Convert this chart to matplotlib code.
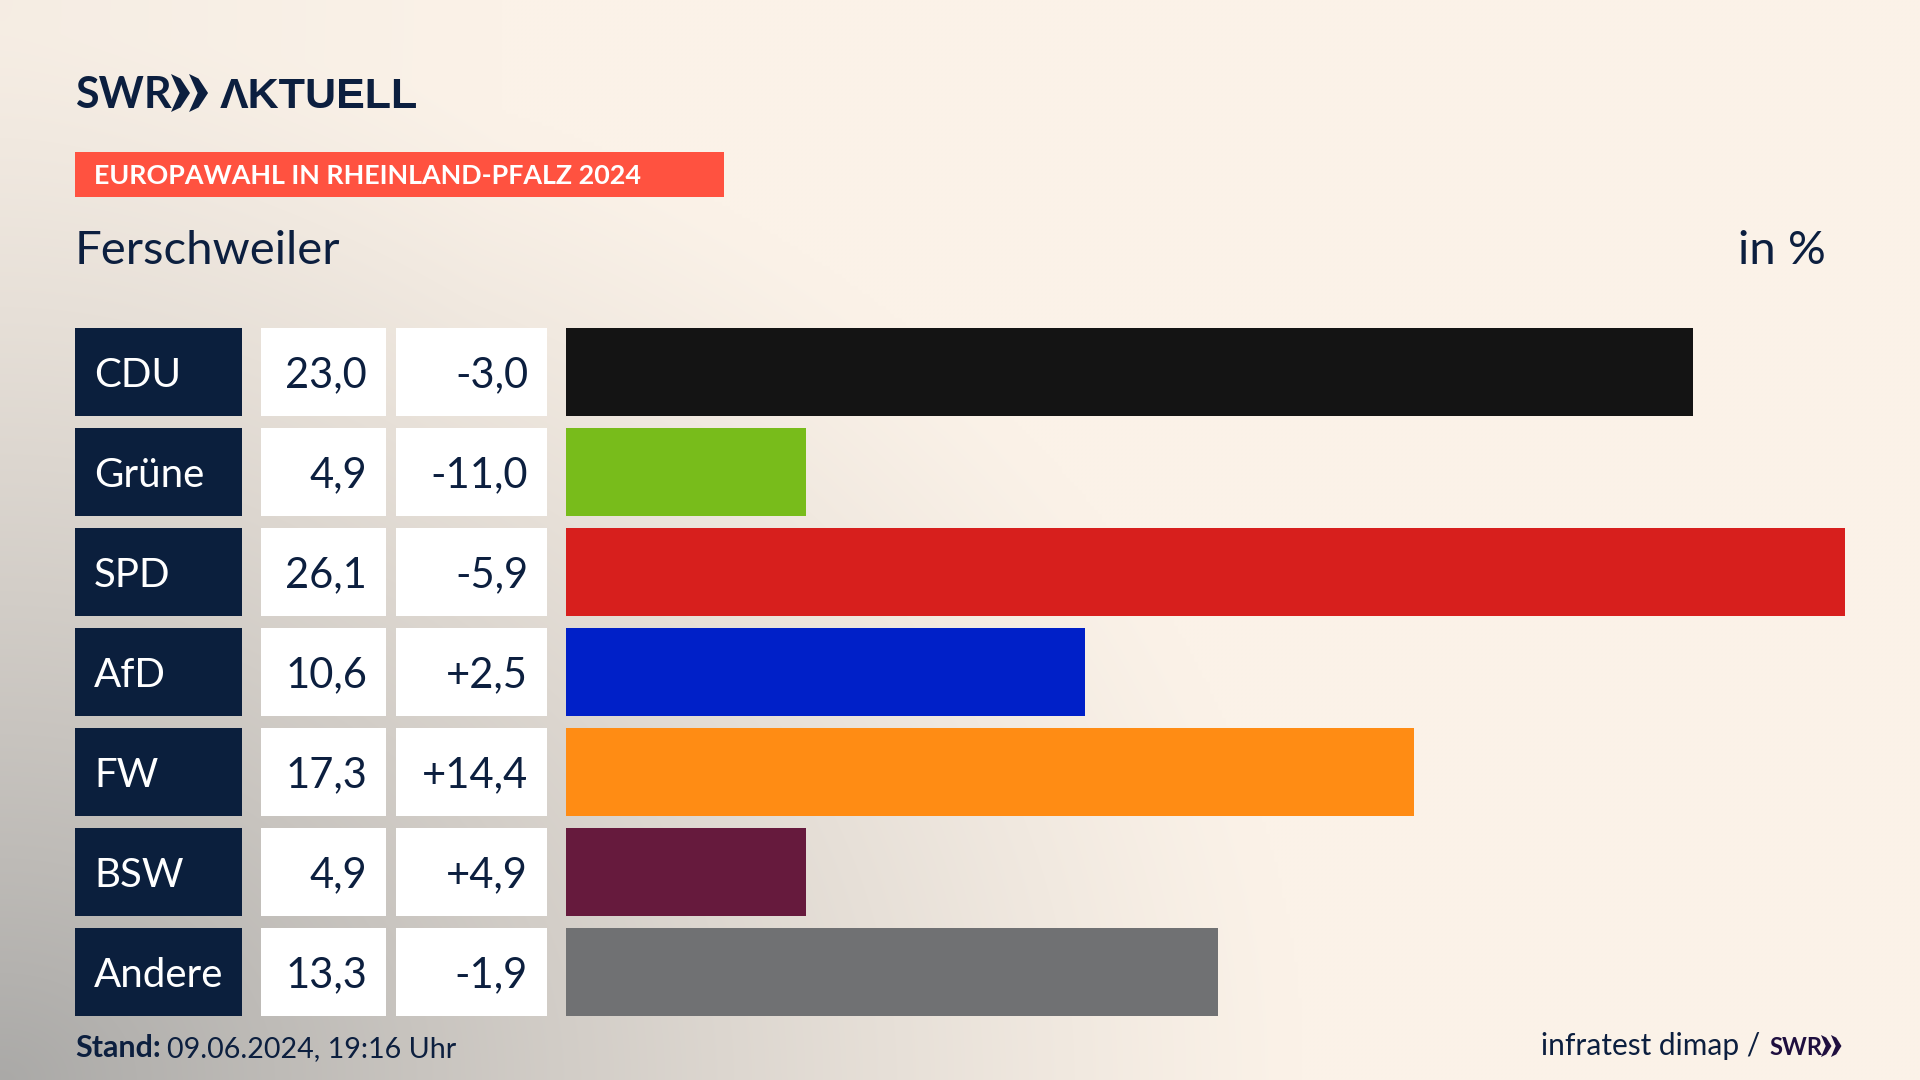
import matplotlib
matplotlib.use('Agg')
import matplotlib.pyplot as plt
from matplotlib.patches import Polygon
import numpy as np

# data
parties = ['CDU', 'Grüne', 'SPD', 'AfD', 'FW', 'BSW', 'Andere']
shares = [23.0, 4.9, 26.1, 10.6, 17.3, 4.9, 13.3]
share_labels = ['23,0', '4,9', '26,1', '10,6', '17,3', '4,9', '13,3']
change_labels = ['-3,0', '-11,0', '-5,9', '+2,5', '+14,4', '+4,9', '-1,9']
bar_colors = ['#141414', '#78BC1B', '#D71F1D', '#0020C8', '#FF8C14', '#661A3D', '#707173']

NAVY = '#0C1F3F'
CREAM = np.array([251, 242, 232]) / 255
GREY = np.array([170, 169, 167]) / 255
FONT = ['Lato', 'DejaVu Sans']

W, H = 1920, 1080
fig = plt.figure(figsize=(W / 100, H / 100), dpi=100)


def px_axes(left, top, right, bottom):
    return fig.add_axes([left / W, 1 - bottom / H, (right - left) / W, (bottom - top) / H])


# background + everything that sits in pixel space
bg = px_axes(0, 0, W, H)
xx, yy = np.meshgrid(np.arange(0, W, 4), np.arange(0, H, 4))
dist = np.sqrt((xx / 1300) ** 2 + ((H - yy) / 1050) ** 2)
weight = np.clip(1 - dist, 0, 1) ** 1.2
weight = weight + 0.07 * np.clip(1 - np.sqrt((xx / 500) ** 2 + (yy / 900) ** 2), 0, 1)
img = CREAM + (GREY - CREAM) * weight[..., None]
bg.imshow(np.clip(img, 0, 1), extent=(0, W, H, 0), aspect='auto', interpolation='bilinear')
bg.set_xlim(0, W)
bg.set_ylim(H, 0)
bg.axis('off')


def chevrons(x, top, bottom, size, color):
    mid = (top + bottom) / 2
    for off in (0, size * 0.95):
        pts = [(x + off, top), (x + off + size * 0.5, top + (bottom - top) * 0.12),
               (x + off + size, mid), (x + off + size * 0.5, bottom - (bottom - top) * 0.12),
               (x + off, bottom), (x + off + size * 0.45, mid)]
        bg.add_patch(Polygon(pts, closed=True, color=color, lw=0))


# logo
bg.text(75, 108, 'SWR', family=FONT, fontsize=31, fontweight='bold', color=NAVY, va='baseline')
chevrons(171, 74, 112, 19, NAVY)
bg.text(220, 108, 'ΛKTUELL', family=['Liberation Sans', 'DejaVu Sans'], fontsize=31, fontweight='bold',
        color=NAVY, va='baseline')

# headline
bg.fill_between([75, 724], 152, 197, color='#FF5240', lw=0)
bg.text(94, 184, 'EUROPAWAHL IN RHEINLAND-PFALZ 2024', family=FONT, fontsize=19.4,
        fontweight='bold', color='white', va='baseline')
bg.text(75, 264, 'Ferschweiler', family=FONT, fontsize=34, color=NAVY, va='baseline')
bg.text(1826, 264, 'in %', family=FONT, fontsize=34, color=NAVY, va='baseline', ha='right')

# table cells, x axis in pixels, rows shared with the bars
rows = np.arange(len(parties))
table = px_axes(75, 328, 547, 1016)
table.barh(rows, 167, left=0, height=0.88, color='#0B1F3D')
table.barh(rows, 125, left=186, height=0.88, color='white')
table.barh(rows, 151, left=321, height=0.88, color='white')
table.set_xlim(0, 472)
table.set_ylim(len(parties) - 1 + 0.44, -0.44)
table.axis('off')
for i in rows:
    table.text(19, i + 0.15, parties[i], family=FONT, fontsize=29, color='white', va='baseline')
    table.text(292, i + 0.15, share_labels[i], family=FONT, fontsize=30, color=NAVY, va='baseline', ha='right')
    table.text(453, i + 0.15, change_labels[i], family=FONT, fontsize=30, color=NAVY, va='baseline', ha='right')

# bars
ax = px_axes(566, 328, 1845, 1016)
ax.barh(rows, shares, height=0.88, color=bar_colors)
ax.set_xlim(0, max(shares))
ax.set_ylim(len(parties) - 1 + 0.44, -0.44)
ax.axis('off')

# footer
bg.text(75, 1057, 'Stand:', family=FONT, fontsize=22, fontweight='bold', color=NAVY, va='baseline')
bg.text(167, 1057, '09.06.2024, 19:16 Uhr', family=FONT, fontsize=20.6, color=NAVY, va='baseline')
bg.text(1760, 1055, 'infratest dimap /', family=FONT, fontsize=21.5, color=NAVY, va='baseline', ha='right')
bg.text(1769, 1055, 'SWR', family=FONT, fontsize=17, fontweight='bold', color='#1F0F3F', va='baseline')
chevrons(1821, 1035, 1057, 10.5, '#1F0F3F')

fig.savefig('out.png', dpi=100)
